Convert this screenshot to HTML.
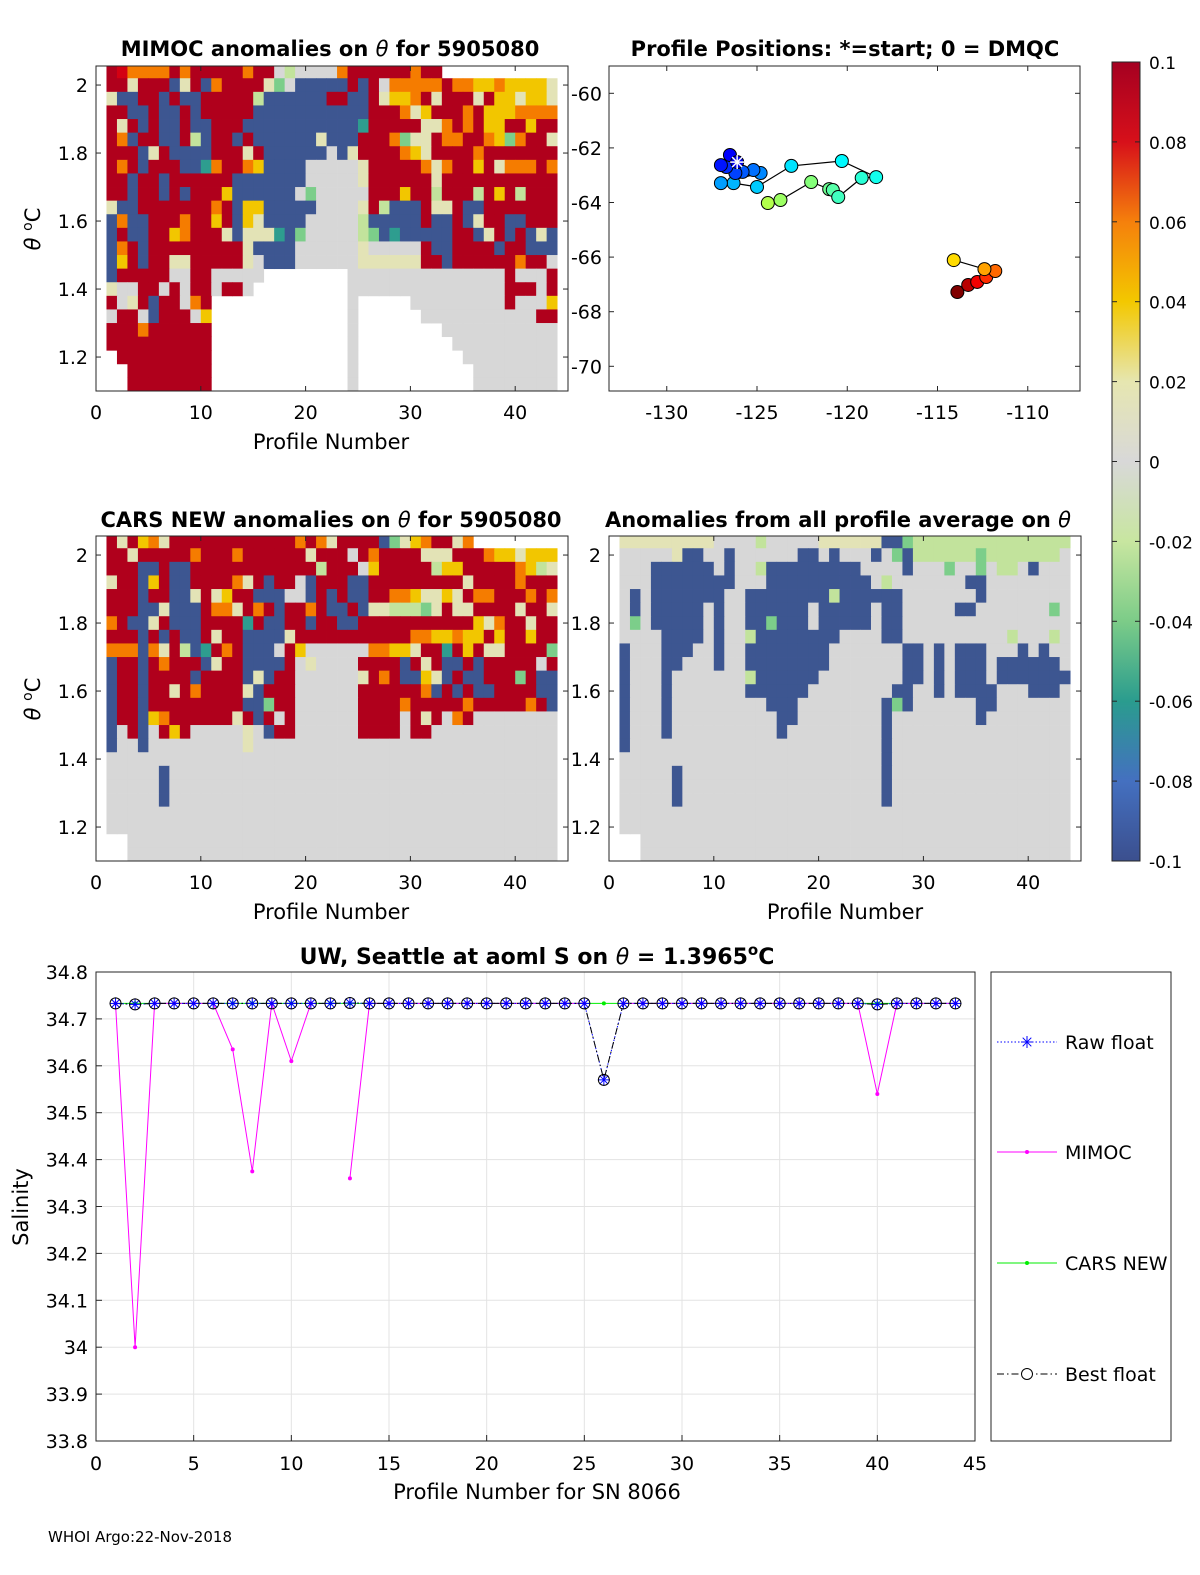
<!DOCTYPE html>
<html><head><meta charset="utf-8">
<style>
html,body{margin:0;padding:0;background:#fff;}
svg{display:block;font-family:"DejaVu Sans","Liberation Sans",sans-serif;}
</style></head>
<body>
<svg id="fig" width="1200" height="1575" viewBox="0 0 1200 1575" xmlns="http://www.w3.org/2000/svg">
<defs>
<linearGradient id="cbgrad" x1="0" y1="0" x2="0" y2="1">
<stop offset="0" stop-color="#a50021"/><stop offset="0.1" stop-color="#d7101a"/><stop offset="0.2" stop-color="#f5800c"/><stop offset="0.3" stop-color="#f3c800"/><stop offset="0.4" stop-color="#e6e6b0"/><stop offset="0.5" stop-color="#d8d8d8"/><stop offset="0.6" stop-color="#c8e6a0"/><stop offset="0.7" stop-color="#7ccc88"/><stop offset="0.8" stop-color="#2a9c8e"/><stop offset="0.9" stop-color="#4470c0"/><stop offset="1" stop-color="#3b4f8e"/>
</linearGradient>
<clipPath id="c1"><rect x="96" y="66" width="472" height="325"/></clipPath>
<clipPath id="c3"><rect x="96" y="536" width="472" height="325"/></clipPath>
<clipPath id="c4"><rect x="609" y="536" width="471" height="325"/></clipPath>
</defs>
<g id="root"></g>
</svg>
<script>
const mimocRows = [
"RrooooRoRR"+"RRRoRRglgg"+"ggoRRRRRRo"+"RR...........",
"RReRRRbeRb"+"oRRRReGgbb"+"bbbRbRgooo"+"ooRooyyoyyyye",
"ebbRRbRbbR"+"RRRRlbbbbb"+"bRRbbReyyo"+"ReRRReRyyeyye",
"RRbbRbbRbR"+"RRRRbbbbbb"+"bbbbbRRRoe"+"yRRRoRyyyoooo",
"ReRbRbbRbb"+"RRRbbbbbbb"+"bbbbtRRRRR"+"eeoRoRyyRRyRR",
"RobRRbbRlb"+"RRbRbbbbbb"+"ebbbRRRoGe"+"eRooRRoyGoRRe",
"RRRbeRbbbb"+"RRReRbbbbb"+"bgbeRRRRoy"+"eRRRRoRRRRRRR",
"RoRbRRRbbt"+"oRRoybbbbg"+"ggggeRRRRR"+"oeoRRyReoooRo",
"RRbRRbRRRR"+"RRbbbbbbbg"+"ggggeRRRRR"+"ReRRRRRRRRRRR",
"RRbRRbRbRR"+"RybbbbbbgG"+"gggggRRRyR"+"RlRRRlRyRlRRR",
"ebbRRRRRRR"+"oRbyybbbbb"+"ggggeRlbbb"+"ReeRbbRRRRRRR",
"bobbRRRoRR"+"yRbyebbbbg"+"gggglbbbbb"+"RbbRbeRRbbRRR",
"bRbbRRyoRR"+"RebeeetbGg"+"gggglGbtbb"+"bbbRRbeRbRbeb",
"boRbRRRRRR"+"RRRebbbbgg"+"ggggeggggg"+"RbbRRRRbRRbbb",
"byRbRReeRR"+"RRRegbbbgg"+"ggggeeeeee"+"RRbRRRRRRoRRg",
"bRRRRRggRR"+"ggggg....."+"...ggggggg"+"ggggggggRgggR",
"eggRRgRgRR"+"gRRg......"+"...ggggggg"+"ggggggggRRRgR",
"RgeRbRRgoR"+".........."+"...g.....g"+"ggggggggRgggy",
"gRRgbRRRgy"+".........."+"...g......"+"gggggggggggRR",
"RRRoRRRRRR"+".........."+"...g......"+"..ggggggggggg",
"RRRRRRRRRR"+".........."+"...g......"+"...gggggggggg",
".RRRRRRRRR"+".........."+"...g......"+"....ggggggggg",
"..RRRRRRRR"+".........."+"...g......"+".....gggggggg",
"..RRRRRRRR"+".........."+"...g......"+".....gggggggg"
];
const carsRows = [
"ReRyoeRRRR"+"RRRRRRRRoR"+"oeRRRRbGey"+"oRReo........",
"RReRRRRRoR"+"RRoRRRRRRe"+"RRRgRoRRRR"+"eeeRRRoyyeyyy",
"RRRbbRbbRR"+"RRRRRRRRRR"+"lRRRgyRRRR"+"RlyyRRRRRoyle",
"eRRbyRbbRR"+"RRoeRbRRgb"+"RRRbbRRRRR"+"RRRReRRRRoRRR",
"RRRbRRbbeR"+"eyRRbbbggb"+"RbRbbRRooy"+"eeyeRooRRRoRo",
"RRRbbebbbR"+"ooeRoRbRRo"+"RbbRbeelll"+"GeReeRRRReRRe",
"oRbbeRbbbR"+"RRRtRbbRRb"+"RRbbRRRRRR"+"RRRRRyeoRReRR",
"RRRbRbRbbR"+"eRRbbbbeRR"+"RRRRRRRRRo"+"oyyoyyRyRRyRR",
"oooboeRlbt"+"RoRbbbgRyg"+"gggggooyye"+"RRtRyReeRRRRG",
"bRRbRoRRRb"+"eRRbbbbRge"+"ggggRRRRbR"+"eRbbRbRRRRRgR",
"bRRbRRRRbR"+"RRRbebRRgg"+"ggggeRoRbb"+"yebRbbRRRGRbb",
"bRRbRReRoR"+"RRRebRRRgg"+"ggggRRRRRR"+"obRbRbbRRRRbb",
"bRRbRRRRRR"+"RRRbbGRRgg"+"ggggRRRRoR"+"RRRRoRRRRRoRb",
"bRRbyoRRRR"+"RReRbRgRgg"+"ggggRRRRgR"+"eRgoRgggggggg",
"bgRbgRyRgg"+"gggegbRRgg"+"ggggRRRRgR"+"Rgggggggggggg",
"bggbgggggg"+"gggegggggg"+"gggggggggg"+"ggggggggggggg",
"gggggggggg"+"gggggggggg"+"gggggggggg"+"ggggggggggggg",
"gggggbgggg"+"gggggggggg"+"gggggggggg"+"ggggggggggggg",
"gggggbgggg"+"gggggggggg"+"gggggggggg"+"ggggggggggggg",
"gggggbgggg"+"gggggggggg"+"gggggggggg"+"ggggggggggggg",
"gggggggggg"+"gggggggggg"+"gggggggggg"+"ggggggggggggg",
"gggggggggg"+"gggggggggg"+"gggggggggg"+"ggggggggggggg",
"..gggggggg"+"gggggggggg"+"gggggggggg"+"ggggggggggggg",
"..gggggggg"+"gggggggggg"+"gggggggggg"+"ggggggggggggg"
];
const avgRows = [
"eeeeeeeeeg"+"ggglggggge"+"eeeeebbGll"+"lllllllllllll",
"gggggebbgg"+"bggggggbbg"+"bgggbgGbll"+"llllGlllllllg",
"gggbbbbbbg"+"bgglbbbbbb"+"bbbggggbgg"+"gGggGgllgbggg",
"gggbbbbbbb"+"bgggbbbbbb"+"bbbbglgggg"+"gggbbgggggggg",
"gbgbbbbbbb"+"ggbbbbbbbb"+"lbbbbbbggg"+"ggggbgggggggg",
"gbgbbbbbgb"+"ggbbbbbbgb"+"bbbbgbbggg"+"ggbbgggggggGg",
"gGgbbbbbgb"+"ggbbGbbbgb"+"bbbbgbbggg"+"ggggggggggggg",
"ggggbbbbgb"+"gglbbbbbbb"+"bggggbbggg"+"ggggggglggglg",
"bgggbbbggb"+"ggbbbbbbbb"+"gggggggbbg"+"bgbbbgggbgbgg",
"bgggbbgggb"+"ggbbbbbbbb"+"gggggggbbg"+"bgbbbgbbbbbbg",
"bgggbggggg"+"gglbbbbbbg"+"gggggggbbg"+"bgbbbgbbbbbbb",
"bgggbggggg"+"ggbbbbbbgg"+"ggggggbbgg"+"bgbbbbgggbbbg",
"bgggbggggg"+"ggggbbbggg"+"gggggbGbgg"+"ggggbbggggggg",
"bgggbggggg"+"gggggbbggg"+"gggggbgggg"+"ggggbgggggggg",
"bgggbggggg"+"gggggbgggg"+"gggggbgggg"+"ggggggggggggg",
"bggggggggg"+"gggggggggg"+"gggggbgggg"+"ggggggggggggg",
"gggggggggg"+"gggggggggg"+"gggggbgggg"+"ggggggggggggg",
"gggggbgggg"+"gggggggggg"+"gggggbgggg"+"ggggggggggggg",
"gggggbgggg"+"gggggggggg"+"gggggbgggg"+"ggggggggggggg",
"gggggbgggg"+"gggggggggg"+"gggggbgggg"+"ggggggggggggg",
"gggggggggg"+"gggggggggg"+"gggggggggg"+"ggggggggggggg",
"gggggggggg"+"gggggggggg"+"gggggggggg"+"ggggggggggggg",
"..gggggggg"+"gggggggggg"+"gggggggggg"+"ggggggggggggg",
"..gggggggg"+"gggggggggg"+"gggggggggg"+"ggggggggggggg"
];
const cellColors = {R:"#b0001c",r:"#d40012",o:"#f57c00",y:"#f2c600",e:"#e3e3b6",g:"#d7d7d7",l:"#c2e39c",G:"#7cce8a",t:"#2e9d8f",b:"#3d5691",m:"#4a6fc4"};
const thetaTop = 2.06, thetaStep = 0.04;
const thetaTicks = [2, 1.8, 1.6, 1.4, 1.2];
const thetaTickLabels = ["2","1.8","1.6","1.4","1.2"];
const profTicks = [0, 10, 20, 30, 40];

const lons = [-126.1,-126.5,-127.0,-126.7,-126.2,-125.8,-125.2,-124.8,-127.0,-126.3,-125.0,-123.1,-120.3,-118.4,-119.2,-120.5,-120.8,-121.0,-122.0,-123.7,-124.4,-114.1,-112.4,-111.8,-112.3,-112.8,-113.3,-113.9];
const lats = [-62.52,-62.26,-62.63,-62.70,-62.92,-62.88,-62.81,-62.92,-63.29,-63.29,-63.43,-62.66,-62.48,-63.07,-63.10,-63.80,-63.54,-63.51,-63.25,-63.91,-64.02,-66.11,-66.44,-66.51,-66.73,-66.91,-67.02,-67.28];
const lonTicks = [-130,-125,-120,-115,-110];
const latTicks = [-60,-62,-64,-66,-68,-70];

const cbTicks = [0.1,0.08,0.06,0.04,0.02,0,-0.02,-0.04,-0.06,-0.08,-0.1];
const cbLabels = ["0.1","0.08","0.06","0.04","0.02","0","-0.02","-0.04","-0.06","-0.08","-0.1"];

const profiles = Array.from({length:44},(_,i)=>i+1);
const rawS = [34.733,34.731,34.733,34.733,34.733,34.733,34.733,34.733,34.733,34.733,34.733,34.733,34.734,34.733,34.733,34.733,34.733,34.733,34.733,34.733,34.733,34.733,34.733,34.733,34.733,34.57,34.733,34.733,34.733,34.733,34.733,34.733,34.733,34.733,34.733,34.733,34.733,34.733,34.733,34.731,34.733,34.733,34.733,34.733];
const mimocS = [34.733,34.0,34.733,34.733,34.733,34.733,34.635,34.375,34.733,34.61,34.733,null,34.36,34.733,34.733,34.733,34.733,34.733,34.733,34.733,34.733,34.733,34.733,34.733,34.733,null,34.733,34.733,34.733,34.733,34.733,34.733,34.733,34.733,34.733,34.733,34.733,34.733,34.733,34.54,34.733,34.733,34.733,34.733];
const carsS = [34.733,34.733,34.733,34.733,34.733,34.733,34.733,34.733,34.733,34.733,34.733,34.733,34.733,34.733,34.733,34.733,34.733,34.733,34.733,34.733,34.733,34.733,34.733,34.733,34.733,34.733,34.733,34.733,34.733,34.733,34.733,34.733,34.733,34.733,34.733,34.733,34.733,34.733,34.733,34.733,34.733,34.733,34.733,34.733];
const bestS = rawS.slice();
const salTicks = [33.8,33.9,34,34.1,34.2,34.3,34.4,34.5,34.6,34.7,34.8];
const salTickLabels = ["33.8","33.9","34","34.1","34.2","34.3","34.4","34.5","34.6","34.7","34.8"];
const xTicksB = [0,5,10,15,20,25,30,35,40,45];

const NS = "http://www.w3.org/2000/svg";
const root = document.getElementById("root");
function mk(tag, attrs, parent){ const e=document.createElementNS(NS,tag); for(const k in attrs) e.setAttribute(k,attrs[k]); (parent||root).appendChild(e); return e; }
function txt(x,y,s,size,anchor,parent,weight){ const t=mk("text",{x:x,y:y,"font-size":size,"text-anchor":anchor||"middle",fill:"#000"},parent); if(weight) t.setAttribute("font-weight",weight); t.textContent=s; return t; }

function heatPanel(rows, left, top, clip, name, yLabels){
  const W=472, H=325;
  const px = p => left + p*10.48;
  const py = t => top + (2.056 - t)*340;
  const g = mk("g",{"clip-path":"url(#"+clip+")"});
  
  
  rows.forEach((row,k)=>{
    const t0 = thetaTop - k*thetaStep, t1 = t0 - thetaStep;
    for(let c=0;c<43;c++){
      const ch=row[c]||"g";
      if(ch==="."||!cellColors[ch]) continue;
      const r=mk("rect",{x:px(c+1),y:py(t0),width:px(c+2)-px(c+1)+0.4,height:py(t1)-py(t0)+0.4,fill:cellColors[ch]},g);
      
      
    }
  });
  const box=mk("rect",{x:left,y:top,width:W,height:H,fill:"none",stroke:"#262626","stroke-width":1});
  
  
  thetaTicks.forEach((t,i)=>{
    const y=py(t);
    mk("line",{x1:left,y1:y,x2:left+5,y2:y,stroke:"#262626"});
    mk("line",{x1:left+W,y1:y,x2:left+W-5,y2:y,stroke:"#262626"});
    if(yLabels){ const l=txt(left-8,y+7,thetaTickLabels[i],19,"end");   }
  });
  profTicks.forEach(p=>{
    const x=px(p);
    mk("line",{x1:x,y1:top+H,x2:x,y2:top+H-5,stroke:"#262626"});
    mk("line",{x1:x,y1:top,x2:x,y2:top+5,stroke:"#262626"});
    const l=txt(x,top+H+28,String(p),19,"middle");
    
    
  });
}
heatPanel(mimocRows,96,66,"c1","mimoc",true);
heatPanel(carsRows,96,536,"c3","cars",true);
heatPanel(avgRows,609,536,"c4","profile-average",false);
thetaTicks.forEach((t,i)=>{ const l=txt(601,536+(2.056-t)*340+7,thetaTickLabels[i],19,"end");   });

function titleTheta(x,y,pre,post,name){
  const t=mk("text",{x:x,y:y,"font-size":21,"text-anchor":"middle","font-weight":"bold"});
   
  t.innerHTML=pre+'<tspan font-style="italic" font-weight="normal">\u03b8</tspan>'+post;
}
titleTheta(330,56,"MIMOC anomalies on ","  for 5905080","mimoc-title");
const pt=txt(845,56,"Profile Positions: *=start; 0 = DMQC",21,"middle",null,"bold");  
titleTheta(331,527,"CARS NEW anomalies on "," for 5905080","cars-title");
titleTheta(838,527,"Anomalies from all profile average on ","","average-title");
[[331,449],[331,919],[845,919]].forEach(a=>{ const t=txt(a[0],a[1],"Profile Number",21,"middle");   });
[[40,229],[40,699]].forEach(a=>{
  const t=mk("text",{x:0,y:0,"font-size":21,"text-anchor":"middle",transform:"translate("+a[0]+","+a[1]+") rotate(-90)"});
   
  t.innerHTML='<tspan font-style="italic">\u03b8</tspan> <tspan font-size="14" dy="-8">o</tspan><tspan dy="8">C</tspan>';
});

(function(){
  const L=609,T=66,W=471,H=325;
  const px = lon => L + (lon + 133.2)*18.05;
  const py = lat => T + (-59.0 - lat)*27.3;
  const box=mk("rect",{x:L,y:T,width:W,height:H,fill:"#fff",stroke:"#262626"});
   
  lonTicks.forEach(v=>{ const x=px(v); mk("line",{x1:x,y1:T+H,x2:x,y2:T+H-5,stroke:"#262626"}); mk("line",{x1:x,y1:T,x2:x,y2:T+5,stroke:"#262626"}); const l=txt(x,T+H+28,String(v),19,"middle");   });
  latTicks.forEach(v=>{ const y=py(v); mk("line",{x1:L,y1:y,x2:L+5,y2:y,stroke:"#262626"}); mk("line",{x1:L+W,y1:y,x2:L+W-5,y2:y,stroke:"#262626"}); const l=txt(L-7,y+7,String(v),19,"end");   });
  function jet(f){ const r=Math.min(1,Math.max(0,1.5-Math.abs(4*f-3))), g=Math.min(1,Math.max(0,1.5-Math.abs(4*f-2))), b=Math.min(1,Math.max(0,1.5-Math.abs(4*f-1))); return "rgb("+Math.round(r*255)+","+Math.round(g*255)+","+Math.round(b*255)+")"; }
  const breakAt = 21;
  let d1="",d2="";
  lons.forEach((v,i)=>{ const s=(i===0||i===breakAt?"M":"L")+px(v).toFixed(1)+" "+py(lats[i]).toFixed(1)+" "; if(i<breakAt) d1+=s; else d2+=s; });
  const tr=mk("path",{d:d1+d2,fill:"none",stroke:"#000","stroke-width":1.2});
   
  const n=lons.length;
  for(let i=n-1;i>=0;i--){
    const f = i<breakAt ? 0.1 + 0.45*i/(breakAt-1) : 0.66 + 0.34*(i-breakAt)/(n-1-breakAt);
    const c=mk("circle",{cx:px(lons[i]),cy:py(lats[i]),r:6.5,fill:jet(f),stroke:"#000","stroke-width":1});
     
  }
  const sx=px(lons[0]), sy=py(lats[0]);
  const st=mk("g",{stroke:"#fff","stroke-width":1.5});  
  [[-7,0,7,0],[0,-7,0,7],[-5,-5,5,5],[-5,5,5,-5]].forEach(a=>mk("line",{x1:sx+a[0],y1:sy+a[1],x2:sx+a[2],y2:sy+a[3]},st));
})();

(function(){
  const X=1112,T=62,W=28,H=799;
  const r=mk("rect",{x:X,y:T,width:W,height:H,fill:"url(#cbgrad)",stroke:"#262626"});
   
  cbTicks.forEach((v,i)=>{ const y=T+(0.1-v)/0.2*H; mk("line",{x1:X+W,y1:y,x2:X+W-5,y2:y,stroke:"#262626"}); mk("line",{x1:X,y1:y,x2:X+5,y2:y,stroke:"#262626"}); const l=txt(X+W+9,y+7,cbLabels[i],17,"start");   });
})();

(function(){
  const L=96,T=972,W=879,H=469;
  const bx = p => L + p*(W/45);
  const by = s => T + H - (s-33.8)*(H/1.0);
  const bg=mk("rect",{x:L,y:T,width:W,height:H,fill:"#fff",stroke:"none"});
   
  xTicksB.forEach(p=>{ const x=bx(p); mk("line",{x1:x,y1:T,x2:x,y2:T+H,stroke:"#e3e3e3"}); mk("line",{x1:x,y1:T+H,x2:x,y2:T+H-6,stroke:"#262626"}); const l=txt(x,T+H+29,String(p),19,"middle");   });
  salTicks.forEach((s,i)=>{ const y=by(s); mk("line",{x1:L,y1:y,x2:L+W,y2:y,stroke:"#e3e3e3"}); mk("line",{x1:L,y1:y,x2:L+6,y2:y,stroke:"#262626"}); const l=txt(L-8,y+7,salTickLabels[i],19,"end");   });
  const box=mk("rect",{x:L,y:T,width:W,height:H,fill:"none",stroke:"#262626"});
   
  function pathOf(arr){ let d="",pen=false; arr.forEach((v,i)=>{ if(v===null){pen=false;return;} d+=(pen?"L":"M")+bx(profiles[i]).toFixed(1)+" "+by(v).toFixed(1)+" "; pen=true; }); return d; }
  const pc=mk("path",{d:pathOf(carsS),fill:"none",stroke:"#00ee00","stroke-width":1});  
  const pm=mk("path",{d:pathOf(mimocS),fill:"none",stroke:"#ff00ff","stroke-width":1});  
  const pr=mk("path",{d:pathOf(rawS),fill:"none",stroke:"#0000ff","stroke-width":1,"stroke-dasharray":"1.5 2"});  
  const pb=mk("path",{d:pathOf(bestS),fill:"none",stroke:"#000","stroke-width":1,"stroke-dasharray":"7 3 1.5 3"});  
  profiles.forEach((p,i)=>{
    const x=bx(p);
    if(carsS[i]!==null){ const c=mk("circle",{cx:x,cy:by(carsS[i]),r:2,fill:"#00ee00"});   }
    if(mimocS[i]!==null){ const c=mk("circle",{cx:x,cy:by(mimocS[i]),r:2,fill:"#ff00ff"});   }
    const y=by(rawS[i]);
    const a=mk("g",{stroke:"#0000ff","stroke-width":1});  
    [[-6,0,6,0],[0,-6,0,6],[-4.3,-4.3,4.3,4.3],[-4.3,4.3,4.3,-4.3]].forEach(q=>mk("line",{x1:x+q[0],y1:y+q[1],x2:x+q[2],y2:y+q[3]},a));
    const b=mk("circle",{cx:x,cy:by(bestS[i]),r:5.5,fill:"none",stroke:"#000","stroke-width":1});  
  });
  const t=mk("text",{x:537,y:964,"font-size":22,"text-anchor":"middle","font-weight":"bold"});
   
  t.innerHTML='UW, Seattle at aoml S on <tspan font-style="italic" font-weight="normal">\u03b8</tspan> = 1.3965<tspan font-size="15" dy="-9">o</tspan><tspan dy="9">C</tspan>';
  const xl=txt(537,1499,"Profile Number for SN 8066",21,"middle");  
  const yl=mk("text",{x:0,y:0,"font-size":21,"text-anchor":"middle",transform:"translate(28,1207) rotate(-90)"}); yl.textContent="Salinity";  
  const lg=mk("g",{});  
  mk("rect",{x:991,y:972,width:180,height:469,fill:"#fff",stroke:"#262626"},lg);
  const entries=[["Raw float",1042,"raw"],["MIMOC",1152,"mimoc"],["CARS NEW",1263,"cars"],["Best float",1374,"best"]];
  entries.forEach(e=>{
    const g=mk("g",{},lg);  
    const y=e[1];
    if(e[2]==="raw"){ mk("line",{x1:997,y1:y,x2:1057,y2:y,stroke:"#0000ff","stroke-dasharray":"1.5 2"},g); [[-6,0,6,0],[0,-6,0,6],[-4.3,-4.3,4.3,4.3],[-4.3,4.3,4.3,-4.3]].forEach(q=>mk("line",{x1:1027+q[0],y1:y+q[1],x2:1027+q[2],y2:y+q[3],stroke:"#0000ff"},g)); }
    if(e[2]==="mimoc"){ mk("line",{x1:997,y1:y,x2:1057,y2:y,stroke:"#ff00ff"},g); mk("circle",{cx:1027,cy:y,r:2,fill:"#ff00ff"},g); }
    if(e[2]==="cars"){ mk("line",{x1:997,y1:y,x2:1057,y2:y,stroke:"#00ee00"},g); mk("circle",{cx:1027,cy:y,r:2,fill:"#00ee00"},g); }
    if(e[2]==="best"){ mk("line",{x1:997,y1:y,x2:1057,y2:y,stroke:"#000","stroke-dasharray":"7 3 1.5 3"},g); mk("circle",{cx:1027,cy:y,r:5.5,fill:"#fff",stroke:"#000"},g); }
    txt(1065,y+7,e[0],19,"start",g);
  });
})();
const foot=txt(48,1542,"WHOI Argo:22-Nov-2018",15,"start");  
</script>
</body></html>
